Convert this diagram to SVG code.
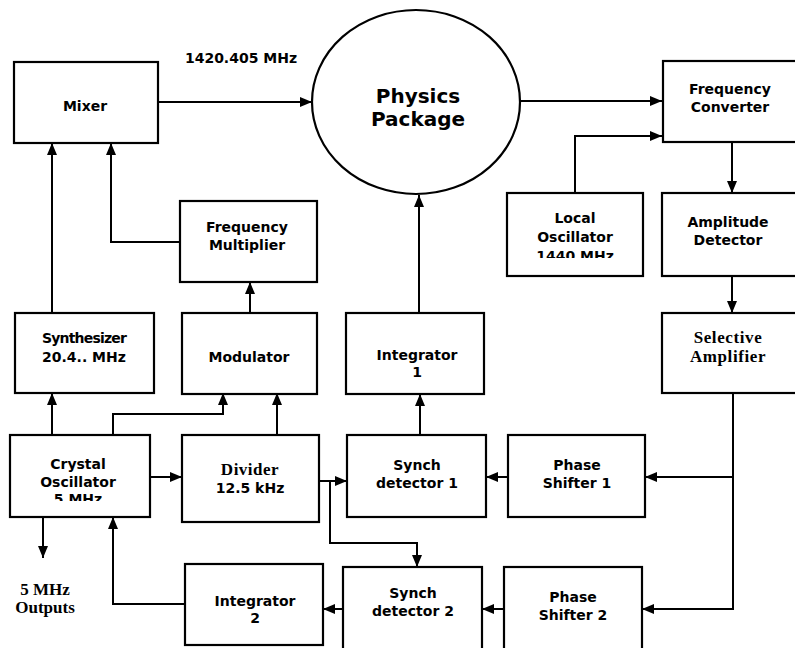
<svg xmlns="http://www.w3.org/2000/svg" width="795" height="648" viewBox="0 0 795 648">
<style>
.box{fill:#fff;stroke:#000;stroke-width:2.2}
.c{fill:none;stroke:#000;stroke-width:2}
text{font-family:"DejaVu Sans","Liberation Sans",sans-serif;font-weight:bold;font-size:14px;text-anchor:middle;fill:#000}
.serif{font-family:"Liberation Serif","DejaVu Serif",serif;font-size:17px}
.big{font-size:20px}
</style>
<defs>
<marker id="a" markerUnits="userSpaceOnUse" markerWidth="12" markerHeight="10" viewBox="0 0 12 10" refX="12" refY="5" orient="auto">
<path d="M0,0 L12,5 L0,10 z" fill="#000"/>
</marker>
<clipPath id="clipLO"><rect x="500" y="190" width="150" height="68"/></clipPath>
<clipPath id="clipCO"><rect x="5" y="430" width="150" height="71"/></clipPath>
</defs>
<rect width="795" height="648" fill="#fff"/>
<g id="connectors">
<path class="c" d="M158,102 H312" marker-end="url(#a)"/>
<path class="c" d="M520,101 H662" marker-end="url(#a)"/>
<path class="c" d="M575,193 V136 H662" marker-end="url(#a)"/>
<path class="c" d="M732,142 V193" marker-end="url(#a)"/>
<path class="c" d="M732,276 V313" marker-end="url(#a)"/>
<path class="c" d="M419,313 V195" marker-end="url(#a)"/>
<path class="c" d="M52,313 V143" marker-end="url(#a)"/>
<path class="c" d="M180,242 H111 V143" marker-end="url(#a)"/>
<path class="c" d="M250,313 V282" marker-end="url(#a)"/>
<path class="c" d="M52,435 V393" marker-end="url(#a)"/>
<path class="c" d="M113,435 V414 H223 V393" marker-end="url(#a)"/>
<path class="c" d="M277,435 V393" marker-end="url(#a)"/>
<path class="c" d="M150,477 H182" marker-end="url(#a)"/>
<path class="c" d="M319,481 H347" marker-end="url(#a)"/>
<path class="c" d="M330,481 V543 H417 V567" marker-end="url(#a)"/>
<path class="c" d="M420,435 V394" marker-end="url(#a)"/>
<path class="c" d="M733,393 V477 H645" marker-end="url(#a)"/>
<path class="c" d="M733,477 V609 H642" marker-end="url(#a)"/>
<path class="c" d="M508,477 H486" marker-end="url(#a)"/>
<path class="c" d="M504,609 H482" marker-end="url(#a)"/>
<path class="c" d="M342,609 H323" marker-end="url(#a)"/>
<path class="c" d="M185,604 H113 V517" marker-end="url(#a)"/>
<path class="c" d="M43,517 V558" marker-end="url(#a)"/>
</g>
<text x="241" y="63">1420.405 MHz</text>
<g id="mixer"><rect class="box" x="14" y="62" width="144" height="81"/><text x="85" y="111">Mixer</text></g>
<g id="physics"><ellipse class="box" cx="416" cy="102" rx="104" ry="92"/><text class="big" x="418" y="103">Physics</text><text class="big" x="418" y="126">Package</text></g>
<g id="freqconv"><rect class="box" x="663" y="61" width="140" height="81"/><text x="730" y="94">Frequency</text><text x="730" y="112">Converter</text></g>
<g id="freqmult"><rect class="box" x="180" y="201" width="137" height="81"/><text x="247" y="232">Frequency</text><text x="247" y="250">Multiplier</text></g>
<g id="localosc"><rect class="box" x="507" y="193" width="136" height="83"/><text x="575" y="223">Local</text><text x="575" y="242">Oscillator</text><text x="575" y="261" clip-path="url(#clipLO)">1440 MHz</text></g>
<g id="ampdet"><rect class="box" x="662" y="193" width="140" height="83"/><text x="728" y="227">Amplitude</text><text x="728" y="245">Detector</text></g>
<g id="synth"><rect class="box" x="15" y="313" width="139" height="80"/><text x="84" y="343" letter-spacing="-0.8">Synthesizer</text><text x="84" y="362">20.4.. MHz</text></g>
<g id="modulator"><rect class="box" x="182" y="313" width="135" height="81"/><text x="249" y="362">Modulator</text></g>
<g id="integrator1"><rect class="box" x="346" y="313" width="138" height="81"/><text x="417" y="360">Integrator</text><text x="417" y="377">1</text></g>
<g id="selamp"><rect class="box" x="662" y="313" width="140" height="80"/><text class="serif" x="728" y="343" letter-spacing="0.6">Selective</text><text class="serif" x="728" y="362" letter-spacing="0.6">Amplifier</text></g>
<g id="crystal"><rect class="box" x="10" y="435" width="140" height="82"/><text x="78" y="469">Crystal</text><text x="78" y="487">Oscillator</text><text x="78" y="504" clip-path="url(#clipCO)">5 MHz</text></g>
<g id="divider"><rect class="box" x="182" y="435" width="137" height="87"/><text class="serif" x="250" y="475" letter-spacing="0.5">Divider</text><text x="250" y="493">12.5 kHz</text></g>
<g id="synch1"><rect class="box" x="347" y="435" width="139" height="82"/><text x="417" y="470">Synch</text><text x="417" y="488">detector 1</text></g>
<g id="phase1"><rect class="box" x="508" y="435" width="137" height="82"/><text x="577" y="470">Phase</text><text x="577" y="488">Shifter 1</text></g>
<g id="outputs"><text class="serif" x="45" y="595">5 MHz</text><text class="serif" x="45" y="613">Outputs</text></g>
<g id="integrator2"><rect class="box" x="185" y="564" width="138" height="81"/><text x="255" y="606">Integrator</text><text x="255" y="623">2</text></g>
<g id="synch2"><rect class="box" x="343" y="567" width="139" height="90"/><text x="413" y="598">Synch</text><text x="413" y="616">detector 2</text></g>
<g id="phase2"><rect class="box" x="504" y="567" width="138" height="90"/><text x="573" y="602">Phase</text><text x="573" y="620">Shifter 2</text></g>
</svg>
